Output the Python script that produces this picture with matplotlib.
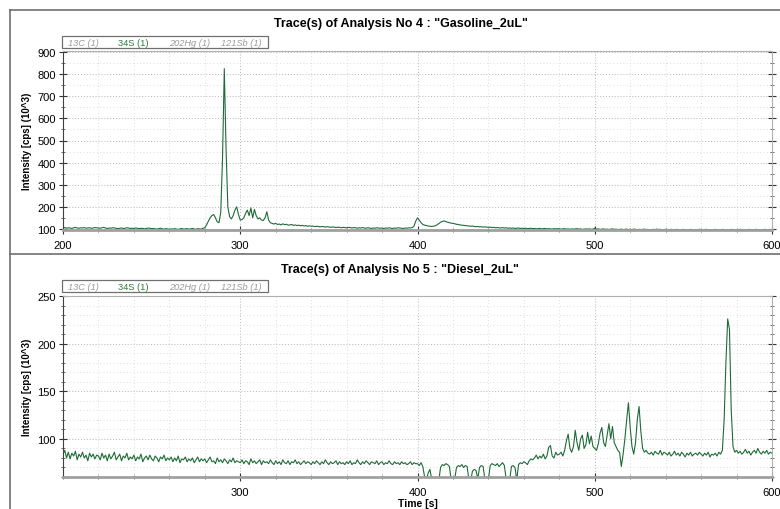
from matplotlib import pyplot as plt
from matplotlib.ticker import MultipleLocator
from matplotlib.lines import Line2D
from matplotlib.patches import Rectangle
import numpy as np

plt.rcParams['font.family'] = ['Liberation Sans', 'DejaVu Sans']

# time axis, 1 s steps
time_s = np.arange(200, 601)

# 34S trace, analysis 4 (gasoline), intensity in 10^3 cps
gasoline = [
    104, 106, 103, 105, 104, 102, 105, 107, 104, 103, 105, 104, 106, 103, 104, 105, 103, 104, 106, 105,
    104, 103, 105, 107, 104, 102, 104, 103, 105, 104, 103, 101, 103, 104, 102, 103, 105, 104, 102, 103,
    102, 104, 103, 101, 103, 102, 100, 102, 104, 103, 101, 102, 100, 99, 101, 103, 100, 99, 101, 100,
    98, 100, 99, 101, 99, 98, 100, 102, 99, 100, 101, 99, 100, 102, 100, 98, 101, 100, 99, 103,
    105, 118, 135, 150, 160, 165, 150, 132, 128, 175, 420, 825, 460, 200, 155, 145, 160, 185, 200, 165,
    140, 142, 150, 170, 185, 160, 195, 150, 188, 160, 145, 150, 140, 138, 150, 178, 140, 128, 125, 122,
    125, 120, 122, 118, 123, 119, 121, 117, 118, 120, 116, 118, 115, 117, 114, 116, 113, 115, 112, 114,
    112, 113, 110, 112, 111, 109, 111, 110, 108, 110, 109, 107, 109, 108, 106, 108, 107, 105, 107, 106,
    105, 107, 106, 104, 106, 105, 103, 105, 104, 106, 104, 103, 105, 104, 102, 104, 103, 105, 104, 103,
    104, 102, 104, 103, 105, 103, 102, 104, 103, 105, 104, 103, 102, 104, 103, 105, 104, 106, 112, 135,
    150, 140, 128, 120, 117, 115, 113, 112, 111, 112, 114, 118, 124, 130, 134, 136, 133, 130, 128, 126,
    125, 123, 121, 120, 118, 117, 116, 115, 114, 113, 112, 113, 111, 110, 111, 109, 110, 108, 109, 108,
    107, 108, 106, 107, 105, 106, 105, 104, 106, 104, 105, 103, 104, 103, 104, 102, 103, 104, 102, 103,
    102, 103, 101, 102, 103, 101, 102, 100, 101, 102, 100, 101, 102, 100, 101, 100, 99, 101, 100, 101,
    100, 99, 100, 101, 99, 100, 98, 100, 99, 100, 101, 99, 100, 98, 99, 100, 99, 100, 98, 99,
    103, 99, 100, 98, 99, 100, 98, 99, 97, 99, 100, 98, 99, 97, 98, 99, 97, 98, 99, 97,
    98, 97, 99, 98, 96, 98, 97, 98, 99, 97, 98, 96, 97, 98, 97, 99, 97, 98, 96, 97,
    98, 97, 96, 98, 97, 96, 98, 97, 96, 97, 98, 96, 97, 96, 98, 97, 96, 97, 96, 98,
    97, 96, 97, 98, 96, 97, 96, 97, 98, 96, 97, 96, 98, 97, 96, 97, 96, 98, 97, 96,
    97, 96, 98, 97, 96, 97, 96, 98, 97, 96, 97, 98, 96, 97, 96, 97, 98, 96, 97, 96,
    97,
]

# 34S trace, analysis 5 (diesel)
diesel = [
    84, 88, 80, 86, 79, 85, 82, 87, 78, 84, 81, 86, 80, 83, 77, 85, 81, 84, 79, 83,
    82, 78, 85, 80, 83, 77, 84, 79, 82, 86, 78, 81, 84, 77, 82, 80, 85, 78, 81, 79,
    83, 77, 81, 79, 84, 76, 80, 82, 78, 83, 79, 77, 82, 80, 76, 81, 79, 83, 77, 80,
    78, 81, 76, 80, 77, 82, 75, 79, 78, 81, 76, 79, 77, 80, 75, 78, 81, 76, 79, 77,
    79, 75, 78, 81, 76, 77, 74, 80, 76, 78, 75, 79, 77, 74, 78, 76, 80, 75, 77, 76,
    75, 78, 74, 77, 76, 73, 79, 75, 77, 74, 76, 78, 73, 77, 75, 76, 74, 78, 75, 73,
    77, 74, 76, 73, 78, 75, 74, 77, 73, 76, 75, 78, 74, 76, 73, 75, 77, 74, 76, 75,
    73, 76, 74, 77, 75, 73, 76, 74, 78, 75, 73, 76, 74, 75, 77, 73, 76, 74, 75, 73,
    76, 74, 77, 73, 75, 74, 78, 75, 73, 76, 74, 77, 75, 73, 76, 75, 74, 77, 73, 75,
    76, 73, 75, 74, 77, 74, 73, 76, 74, 75, 73, 76, 74, 75, 73, 74, 76, 73, 75, 74,
    74, 72, 75, 71, 60, 57, 64, 68, 58, 56, 55, 57, 56, 70, 73, 72, 74, 73, 71, 57,
    56, 58, 70, 72, 71, 73, 70, 72, 71, 57, 56, 66, 68, 67, 58, 70, 72, 71, 58, 56,
    57, 72, 74, 73, 72, 74, 71, 73, 75, 72, 58, 56, 57, 71, 72, 70, 57, 73, 75, 74,
    76, 75, 73, 77, 79, 78, 80, 83, 79, 82, 80, 84, 79, 82, 91, 93, 82, 80, 86, 83,
    84, 86, 82, 88, 98, 105, 90, 86, 92, 109, 96, 88, 100, 104, 90, 94, 107, 95, 103, 92,
    90, 88, 95, 106, 112, 96, 92, 104, 116, 100, 113, 96, 92, 88, 86, 71, 84, 100, 120, 138,
    112, 92, 84, 96, 120, 134, 108, 90, 86, 88, 85, 84, 86, 83, 87, 85, 84, 88, 83, 86,
    85, 83, 86, 82, 84, 87, 83, 85, 82, 86, 84, 81, 85, 83, 86, 82, 84, 85, 83, 86,
    84, 82, 85, 83, 86, 81, 84, 83, 85, 82, 86, 84, 88, 120, 180, 226, 215, 130, 92, 86,
    88, 85, 87, 84, 86, 89, 85, 87, 83, 86, 88, 85, 90, 86, 84, 87, 85, 88, 84, 86,
    85,
]

titles = ['Trace(s) of Analysis No 4 : "Gasoline_2uL"',
          'Trace(s) of Analysis No 5 : "Diesel_2uL"']
legend_labels = ['13C (1)', '34S (1)', '202Hg (1)', '121Sb (1)']
top_yticks = [100, 200, 300, 400, 500, 600, 700, 800, 900]
bot_yticks = [100, 150, 200, 250]
top_xticks = [200, 300, 400, 500, 600]
bot_xticks = [300, 400, 500, 600]

W, H = 780, 510
trace_color = '#1f6b38'

fig = plt.figure(figsize=(7.8, 5.1), dpi=100)


def px(x0, y0, x1, y1):
    # pixel box (top-left origin) -> figure rect
    return [x0 / W, 1 - y1 / H, (x1 - x0) / W, (y1 - y0) / H]


def style_axes(ax, ylim, yticks, xticks, yminor):
    ax.set_xlim(200, 600)
    ax.set_ylim(*ylim)
    ax.set_yticks(yticks)
    ax.set_xticks(xticks)
    ax.xaxis.set_minor_locator(MultipleLocator(20))
    ax.yaxis.set_minor_locator(MultipleLocator(yminor))
    ax.grid(which='major', color='#b4b4b4', linestyle=(0, (1, 2)), linewidth=0.7)
    ax.grid(which='minor', color='#d4d4d4', linestyle=(0, (1, 3)), linewidth=0.6)
    ax.tick_params(which='major', direction='inout', length=6, width=0.8,
                   labelsize=8, colors='#333333', labelcolor='black', pad=2)
    ax.tick_params(which='minor', direction='inout', length=3, width=0.6, colors='#555555')
    ax.tick_params(axis='y', which='both', right=True)
    ax.tick_params(axis='x', pad=4)
    ax.spines['left'].set_color('#404040')
    ax.spines['bottom'].set_color('#a0a0a0')
    ax.spines['bottom'].set_linewidth(2)
    ax.spines['top'].set_color('#b0b0b0')
    ax.spines['right'].set_color('#b0b0b0')
    ax.set_ylabel('Intensity [cps] (10^3)', fontsize=7, fontweight='bold', labelpad=4)


def legend_box(y0):
    fig.patches.append(Rectangle((62 / W, 1 - (y0 + 12) / H), 206 / W, 12 / H,
                                 transform=fig.transFigure, fill=False,
                                 edgecolor='#707070', linewidth=0.9))
    xs = [68, 118, 169, 221]
    for lab, x in zip(legend_labels, xs):
        green = lab.startswith('34S')
        fig.text(x / W, 1 - (y0 + 6) / H, lab, fontsize=6.7, va='center', ha='left',
                 color='#2e7a3c' if green else '#9a9a9a',
                 style='normal' if green else 'italic')


ax1 = fig.add_axes(px(63, 52, 772, 231))
ax1.plot(time_s, gasoline, color=trace_color, linewidth=0.8)
style_axes(ax1, (95, 905), top_yticks, top_xticks, 50)

ax2 = fig.add_axes(px(63, 297, 772, 478))
ax2.plot(time_s, diesel, color=trace_color, linewidth=0.8)
style_axes(ax2, (60, 250), bot_yticks, bot_xticks, 10)
ax2.set_xlabel('Time [s]', fontsize=7.5, fontweight='bold', labelpad=1)

fig.text(401 / W, 1 - 24 / H, titles[0], ha='center', va='center', fontsize=9, fontweight='bold')
fig.text(400 / W, 1 - 270 / H, titles[1], ha='center', va='center', fontsize=9, fontweight='bold')
legend_box(37)
legend_box(281)

# window frame lines
for line in [((10, 780), (11, 11)), ((10, 10), (11, 510)), ((10, 780), (255, 255))]:
    fig.lines.append(Line2D([v / W for v in line[0]], [1 - v / H for v in line[1]],
                            transform=fig.transFigure, color='#707070', linewidth=1.2))

fig.savefig('out.png', dpi=100)
